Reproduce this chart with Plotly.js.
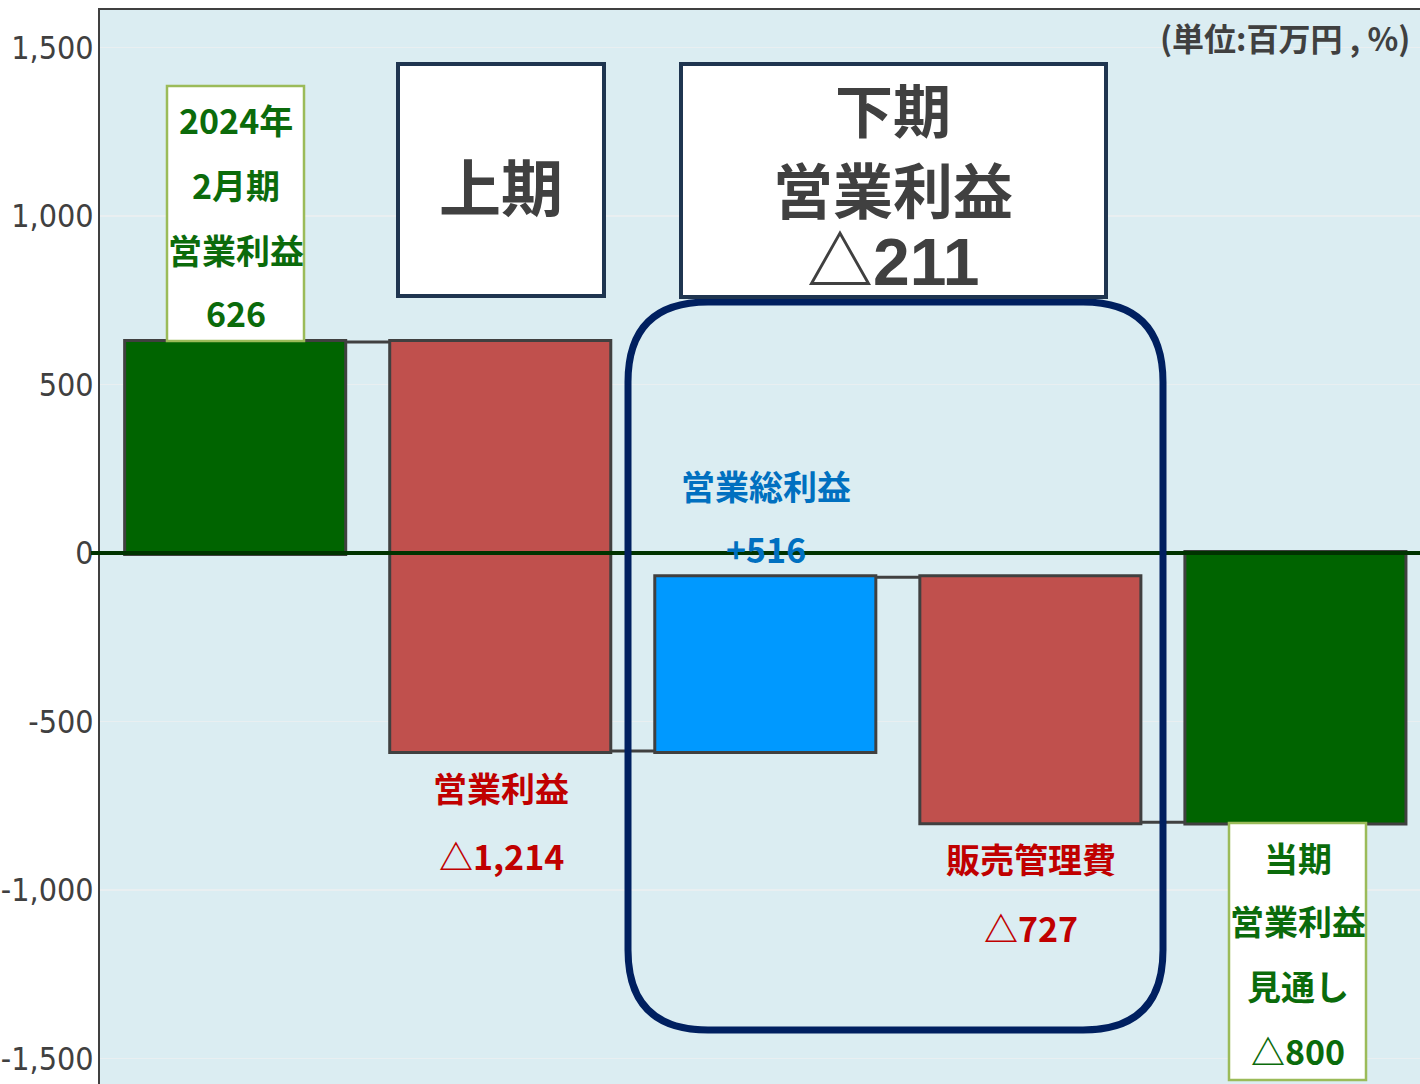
<!DOCTYPE html>
<html>
<head>
<meta charset="utf-8">
<script src="https://cdn.plot.ly/plotly-3.0.1.min.js"></script>
<style>html,body{margin:0;padding:0;background:#fff;}#chart{width:1420px;height:1084px;}</style>
</head>
<body>
<div id="chart"></div>
<script>
// ---- data ----
const categories = ['2024年2月期営業利益', '上期営業利益', '下期営業総利益', '下期販売管理費', '当期営業利益見通し'];
const measures = ['absolute', 'relative', 'relative', 'relative', 'absolute'];
const values = [626, -1214, 516, -727, -800];
const yTicks = [-1500, -1000, -500, 0, 500, 1000, 1500];
const unitLabel = '(単位:百万円 , %)';
const firstHalfLabel = '上期';
const secondHalfLines = ['下期', '営業利益'];
const startLines = ['2024年', '2月期', '営業利益'];
const endLines = ['当期', '営業利益', '見通し'];
const barNames = ['', '営業利益', '営業総利益', '販売管理費', ''];

// ---- helpers ----
const W = 1420, H = 1084, L = 100, T = 10;
const PX = X => (X - L) / (W - L);
const PY = Y => (H - Y) / (H - T);
const fmt = v => (v < 0 ? '△' : '') + Math.abs(v).toLocaleString('en-US');
const fmtSigned = v => v < 0 ? '△' + Math.abs(v).toLocaleString('en-US') : '+' + v.toLocaleString('en-US');

const LBL = 'Liberation Sans Narrow, Noto Sans CJK JP, sans-serif';
const CJK = 'Noto Sans CJK JP, sans-serif';
const GREEN_T = '#0b6b0b', RED_T = '#c00000', BLUE_T = '#0070c0', GREY_T = '#404040';

const trace = {
  type: 'waterfall',
  x: categories,
  y: values,
  measure: measures,
  width: 0.834,
  textinfo: 'none',
  hoverinfo: 'x+y',
  connector: {mode: 'between', line: {color: '#404040', width: 3}},
  increasing: {marker: {color: '#0099ff', line: {color: '#404040', width: 3}}},
  decreasing: {marker: {color: '#c0504d', line: {color: '#404040', width: 3}}},
  totals: {marker: {color: '#006400', line: {color: '#404040', width: 3}}}
};

const ann = [];
function txt(X, Y, text, size, color, family, anchor) {
  ann.push({xref: 'paper', yref: 'paper', x: PX(X), y: PY(Y), text: text, showarrow: false,
    xanchor: anchor || 'center', yanchor: 'middle',
    font: {family: family || LBL, size: size, color: color, weight: 700, stretch: 'condensed'}});
}

// unit label
txt(1412, 37, unitLabel, 32, GREY_T, CJK, 'right');

// start box text
const startAll = startLines.concat([fmt(values[0])]);
[120, 185, 249, 313].forEach((Y, i) => txt(235.5, Y, startAll[i], 34, GREEN_T));

// 上期 box
txt(501, 185, firstHalfLabel, 62, GREY_T, CJK);

// 下期 box
const h2 = values[2] + values[3];
txt(893, 108, secondHalfLines[0], 58, GREY_T, CJK);
txt(893, 187, secondHalfLines[1], 60, GREY_T, CJK);
txt(893, 262, fmt(h2), 66, GREY_T, 'Liberation Sans, Noto Sans CJK JP, sans-serif');

// bar labels
txt(501, 787, barNames[1], 34, RED_T);
txt(501, 855, fmt(values[1]), 34, RED_T);
txt(766, 485, barNames[2], 34, BLUE_T);
txt(766, 548, fmtSigned(values[2]), 34, BLUE_T);
txt(1031, 858, barNames[3], 34, RED_T);
txt(1031, 927, fmt(values[3]), 34, RED_T);

// end box text
const endAll = endLines.concat([fmt(values[4])]);
[857, 920, 985, 1050].forEach((Y, i) => txt(1297.5, Y, endAll[i], 34, GREEN_T));

// shapes
const shapes = [];
function rect(X0, Y0, X1, Y1, line, width, fill) {
  shapes.push({type: 'rect', xref: 'paper', yref: 'paper', x0: PX(X0), x1: PX(X1), y0: PY(Y1), y1: PY(Y0),
    line: {color: line, width: width}, fillcolor: fill, layer: 'above'});
}
// zero line across and slightly past axis
shapes.push({type: 'line', xref: 'paper', yref: 'y', x0: PX(91), x1: 1, y0: 0, y1: 0,
  line: {color: '#003300', width: 4}, layer: 'above'});
// rounded box
(function () {
  const X0 = 628, X1 = 1163, Y0 = 302, Y1 = 1030, r = 80;
  const p = (X, Y) => PX(X).toFixed(5) + ',' + PY(Y).toFixed(5);
  const path = 'M' + p(X0 + r, Y0) + ' L' + p(X1 - r, Y0) + ' Q' + p(X1, Y0) + ' ' + p(X1, Y0 + r) +
    ' L' + p(X1, Y1 - r) + ' Q' + p(X1, Y1) + ' ' + p(X1 - r, Y1) +
    ' L' + p(X0 + r, Y1) + ' Q' + p(X0, Y1) + ' ' + p(X0, Y1 - r) +
    ' L' + p(X0, Y0 + r) + ' Q' + p(X0, Y0) + ' ' + p(X0 + r, Y0) + ' Z';
  shapes.push({type: 'path', xref: 'paper', yref: 'paper', path: path,
    line: {color: '#002060', width: 7}, layer: 'above'});
})();
rect(167, 86, 304, 341, '#9bbb59', 2.5, '#ffffff');
rect(398, 64, 604, 296, '#1f3550', 4, '#ffffff');
rect(681, 64, 1106, 297, '#1f3550', 4, '#ffffff');
rect(1229, 823, 1366, 1080, '#9bbb59', 2.5, '#ffffff');

const layout = {
  width: W, height: H,
  margin: {l: L, r: 0, t: T, b: 0, pad: 0},
  paper_bgcolor: '#ffffff',
  plot_bgcolor: '#dbedf2',
  showlegend: false,
  xaxis: {type: 'category', range: [-0.51, 4.47], side: 'top', showticklabels: false, showgrid: false,
    zeroline: false, showline: true, linecolor: '#404040', linewidth: 2, ticks: '', fixedrange: true},
  yaxis: {range: [-1576, 1611], tickvals: yTicks, ticktext: yTicks.map(v => (v < 0 ? '-' : '') + Math.abs(v).toLocaleString('en-US')),
    showgrid: true, gridcolor: '#e9eff1', gridwidth: 1.5, zeroline: false,
    showline: true, linecolor: '#404040', linewidth: 2, ticks: '', ticklabelstandoff: -2,
    tickfont: {family: 'Liberation Sans Narrow, DejaVu Sans Condensed, Liberation Sans, sans-serif', size: 32, color: '#404040', stretch: 'condensed'}},
  shapes: shapes,
  annotations: ann
};

Plotly.newPlot('chart', [trace], layout, {displayModeBar: false, staticPlot: true});
</script>
</body>
</html>
